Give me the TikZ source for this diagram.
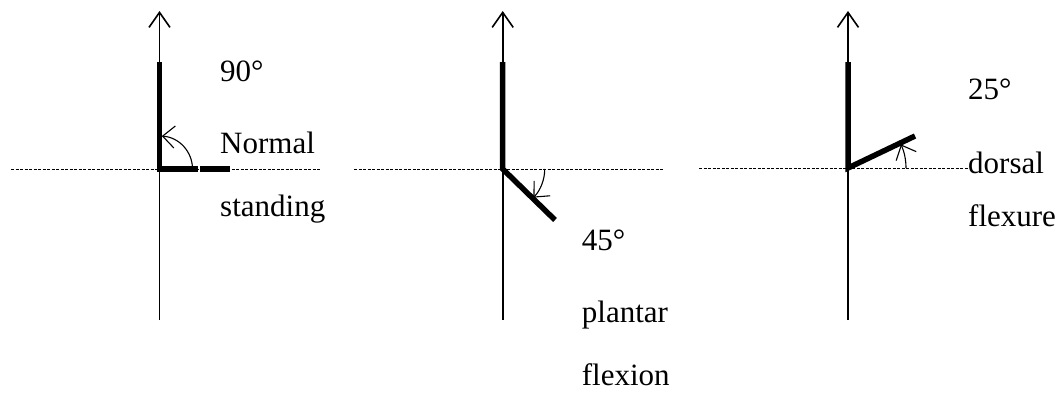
\documentclass[tikz,border=0pt]{standalone}
\usepackage{fontspec}
\setmainfont{Liberation Serif}
\usetikzlibrary{arrows.meta}
\begin{document}
\begin{tikzpicture}[x=1pt,y=1pt,
  axis/.style={line width=1.8pt,-{Straight Barb[length=15pt,width=21pt,line width=1.6pt]}},
  limb/.style={line width=5.5pt},
  ref/.style={line width=1pt,dash pattern=on 3pt off 1.5pt},
  angarc/.style={line width=1.1pt,-{Straight Barb[length=12pt,width=22pt,line width=1.1pt]}},
  lbl/.style={anchor=base west,inner sep=0pt,font=\fontsize{31}{36}\selectfont}]
\useasboundingbox (0,0) rectangle (1062,392);
% ---------- panel 1
\coordinate (a1t) at (159.5,381);
\coordinate (a1b) at (159.5,72);
\coordinate (o1) at (159.5,223);
\coordinate (v1) at (159.5,330);
\coordinate (h1a) at (198,223);
\coordinate (h1b) at (200,223);
\coordinate (h1c) at (230,223);
\coordinate (d1l) at (11,223);
\coordinate (d1r) at (320,223);
\draw[ref] (d1l) -- (d1r);
\draw[axis] (a1b) -- (a1t);
\draw[limb] (v1) -- (o1) -- (h1a);
\draw[limb] (h1b) -- (h1c);
\draw[angarc] ([xshift=33pt]o1) arc[start angle=0,end angle=86,radius=33];
\node[lbl] (t90) at (220,310.3) {90°};
\node[lbl] (tnorm) at (220,238.7) {Normal};
\node[lbl] (tstand) at (220,175.3) {standing};
% ---------- panel 2
\coordinate (a2t) at (502.7,381);
\coordinate (a2b) at (502.7,72);
\coordinate (o2) at (502.7,223);
\coordinate (v2) at (502.7,330);
\coordinate (f2) at (555,172);
\coordinate (d2l) at (354,223);
\coordinate (d2r) at (664,223);
\draw[ref] (d2l) -- (d2r);
\draw[axis] (a2b) -- (a2t);
\draw[limb] (v2) -- (o2) -- (f2);
\draw[angarc] ([xshift=42pt]o2) arc[start angle=0,end angle=-43,radius=42];
\node[lbl] (t45) at (581.7,142) {45°};
\node[lbl] (tplan) at (581.7,69.3) {plantar};
\node[lbl] (tflex) at (581.7,6.3) {flexion};
% ---------- panel 3
\coordinate (a3t) at (848,381);
\coordinate (a3b) at (848,72);
\coordinate (o3) at (848,224);
\coordinate (v3) at (848,330);
\coordinate (f3) at (915,256);
\coordinate (d3l) at (699,224);
\coordinate (d3r) at (968,224);
\draw[ref] (d3l) -- (d3r);
\draw[axis] (a3b) -- (a3t);
\draw[limb] (v3) -- (o3) -- (f3);
\draw[angarc] ([xshift=58pt]o3) arc[start angle=0,end angle=24,radius=58];
\node[lbl] (t25) at (968,293) {25°};
\node[lbl] (tdors) at (968,218.7) {dorsal};
\node[lbl] (tflexu) at (968,165.3) {flexure};
\end{tikzpicture}
\end{document}
